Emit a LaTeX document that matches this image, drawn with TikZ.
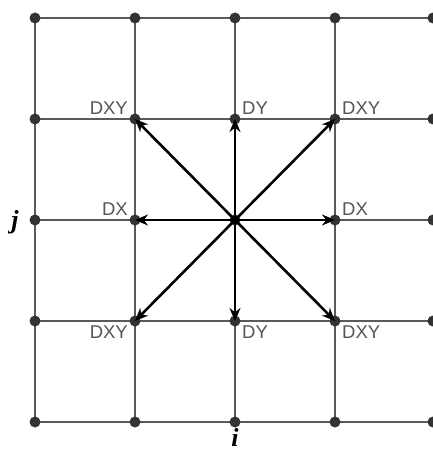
\documentclass[tikz,border=0pt]{standalone}
\usepackage{fontspec}
\setmainfont{Liberation Serif}
\setsansfont{Liberation Sans}
\usetikzlibrary{arrows.meta}
\definecolor{gridc}{HTML}{5A5A5A}
\definecolor{dotc}{HTML}{333333}
\definecolor{labc}{HTML}{555555}
\tikzset{
  gridline/.style={gridc, line width=1.2pt},
  gdot/.style={circle, fill=dotc, inner sep=0pt, minimum size=11pt},
  lab/.style={labc, font=\sffamily\fontsize{18.5}{18.5}\selectfont, inner sep=1pt},
  vec/.style={black, line width=2.6pt, -{Stealth[length=13pt,width=11pt]}},
  idx/.style={font=\bfseries\itshape\fontsize{26}{26}\selectfont, inner sep=0pt}
}
\begin{document}
\begin{tikzpicture}[x=1pt,y=-1pt]
\useasboundingbox (0,0) rectangle (433,452);
% grid lines
\foreach \y in {18,119,220,321,422} \draw[gridline] (35,\y) -- (440,\y);
\foreach \x in {35,135,235,335} \draw[gridline] (\x,18) -- (\x,422);
% dots
\foreach \x/\c in {35/0,135/1,235/2,335/3,433/4}
  \foreach \y/\r in {18/0,119/1,220/2,321/3,422/4}
    \node[gdot] (p\c\r) at (\x,\y) {};
% center
\node[circle, fill=black, inner sep=0pt, minimum size=8pt] (c) at (235,220) {};
% arrows
\foreach \t in {p11,p21,p31,p12,p32,p13,p23,p33}
  \draw[vec] (c.center) -- (\t.center);
% labels
\node[lab, anchor=south east] (l1) at ([xshift=-6pt,yshift=3pt]p11.center) {DXY};
\node[lab, anchor=south west] (l2) at ([xshift=6pt,yshift=3pt]p21.center) {DY};
\node[lab, anchor=south west] (l3) at ([xshift=6pt,yshift=3pt]p31.center) {DXY};
\node[lab, anchor=south east] (l4) at ([xshift=-6pt,yshift=3pt]p12.center) {DX};
\node[lab, anchor=south west] (l5) at ([xshift=6pt,yshift=3pt]p32.center) {DX};
\node[lab, anchor=north east] (l6) at ([xshift=-6pt,yshift=-4pt]p13.center) {DXY};
\node[lab, anchor=north west] (l7) at ([xshift=6pt,yshift=-4pt]p23.center) {DY};
\node[lab, anchor=north west] (l8) at ([xshift=6pt,yshift=-4pt]p33.center) {DXY};
% indices
\node[idx] (j) at (15,222) {j};
\node[idx] (i) at (235,437) {i};
\end{tikzpicture}
\end{document}
